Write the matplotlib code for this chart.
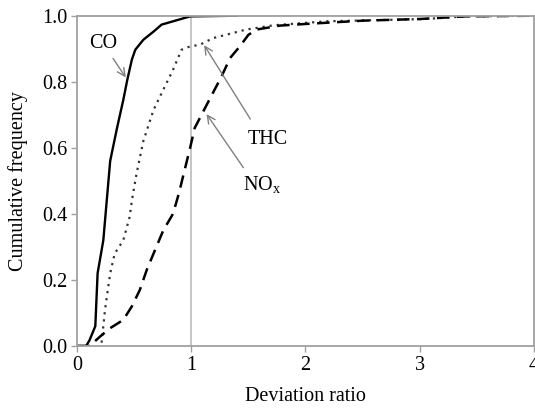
import matplotlib.pyplot as plt

plt.rcParams['font.family'] = ['Liberation Serif', 'DejaVu Serif']

# curves (deviation ratio, cumulative frequency)
co_x = [0, 0.08, 0.11, 0.16, 0.18, 0.23, 0.26, 0.29, 0.35, 0.405, 0.44, 0.48,
        0.51, 0.58, 0.67, 0.74, 0.84, 0.99, 1.4]
co_y = [0, 0.0, 0.018, 0.06, 0.22, 0.32, 0.44, 0.56, 0.66, 0.745, 0.806, 0.867,
        0.897, 0.927, 0.952, 0.973, 0.983, 0.998, 1.0]

thc_x = [0.215, 0.245, 0.29, 0.33, 0.405, 0.46, 0.48, 0.52, 0.58, 0.67, 0.755,
         0.84, 0.915, 0.99, 1.075, 1.19, 1.48, 1.72, 2.18, 3.05, 3.4, 4.0]
thc_y = [0.01, 0.11, 0.22, 0.28, 0.32, 0.39, 0.44, 0.52, 0.62, 0.715, 0.776,
         0.836, 0.897, 0.907, 0.912, 0.932, 0.958, 0.971, 0.983, 0.99, 0.998, 1.0]

nox_x = [0, 0.11, 0.2, 0.29, 0.405, 0.48, 0.55, 0.61, 0.67, 0.755, 0.84, 0.89,
         0.94, 0.99, 1.03, 1.105, 1.18, 1.265, 1.34, 1.425, 1.5, 1.57, 1.775,
         2.0, 2.5, 3.0, 3.4, 4.0]
nox_y = [0, 0.0, 0.028, 0.054, 0.079, 0.12, 0.17, 0.23, 0.28, 0.35, 0.40, 0.46,
         0.53, 0.6, 0.66, 0.71, 0.76, 0.816, 0.872, 0.907, 0.942, 0.958, 0.97,
         0.975, 0.985, 0.99, 0.998, 1.0]

x_ticks = [0, 1, 2, 3, 4]
y_ticks = [0.0, 0.2, 0.4, 0.6, 0.8, 1.0]

fig = plt.figure(figsize=(5.35, 4.08), dpi=100)
ax = fig.add_axes([0.144, 0.152, 0.854, 0.8095])

grey = '#a0a0a0'
ax.axvline(1, color='#c0c0c0', lw=1.3, zorder=1)

ax.plot(co_x, co_y, color='black', lw=1.7, ls='-')
ax.plot(thc_x, thc_y, color='#333333', lw=1.6, ls=(0, (1, 2.2)))
ax.plot(nox_x, nox_y, color='black', lw=1.8, ls=(0, (5, 3)))

arrow = dict(arrowstyle='->', color='#808080', lw=1.0, mutation_scale=14)
ax.annotate('CO', xy=(0.44, 0.806), xytext=(0.23, 0.915), ha='center',
            va='center', fontsize=14.5, arrowprops=arrow)
ax.annotate('', xy=(1.10, 0.918), xytext=(1.53, 0.68), arrowprops=arrow)
ax.text(1.67, 0.624, 'THC', ha='center', va='center', fontsize=14.5)
ax.annotate('', xy=(1.12, 0.709), xytext=(1.47, 0.533), arrowprops=arrow)
ax.text(1.62, 0.485, 'NO$_\\mathregular{x}$', ha='center', va='center', fontsize=14.5)

ax.set_xlim(0, 4)
ax.set_ylim(0, 1)
ax.set_xticks(x_ticks)
ax.set_xticklabels([str(t) for t in x_ticks])
ax.set_yticks(y_ticks)
ax.set_yticklabels(['%.1f' % t for t in y_ticks])
ax.tick_params(labelsize=14.5, color=grey, length=4, width=1, pad=3)
for s in ax.spines.values():
    s.set_color(grey)
    s.set_linewidth(1.3)

ax.set_xlabel('Deviation ratio', fontsize=14.5, labelpad=9)
ax.set_ylabel('Cumulative frequency', fontsize=14.5, labelpad=10)

fig.savefig('out.png', dpi=100)
